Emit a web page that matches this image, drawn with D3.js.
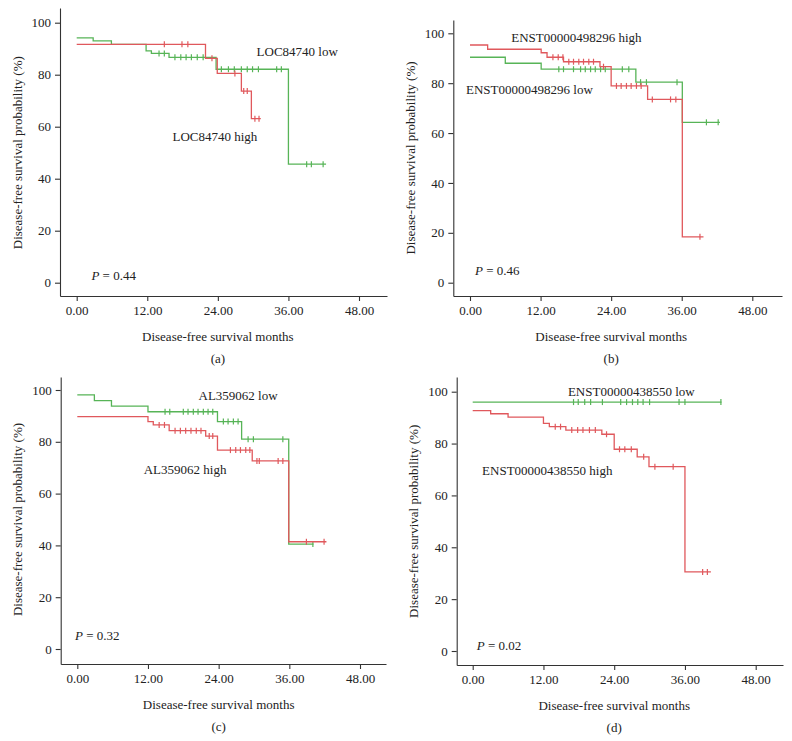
<!DOCTYPE html>
<html>
<head>
<meta charset="utf-8">
<script src="https://cdn.jsdelivr.net/npm/d3@7"></script>
<style>
  body { margin: 0; background: #fff; }
  svg { display: block; font-family: "Liberation Serif", "DejaVu Serif", serif; }
  .axis path, .axis line { stroke: #333; stroke-width: 1.1; }
  .axis text { font-family: "Liberation Serif", serif; font-size: 13px; fill: #222; }
  .lbl { font-size: 13px; fill: #222; }
</style>
</head>
<body>
<svg id="chart" width="792" height="741"></svg>
<script>
// ---- tick labels ----
const monthTicks = [0, 12, 24, 36, 48];
const survTicks = [0, 20, 40, 60, 80, 100];

// ---- (a) LOC84740 ----  steps: [month, survival %] (start + each drop)
const locLowSteps = [[0, 94.2], [2.8, 93.0], [5.9, 91.7], [11.8, 89.2], [12.7, 88.2], [15.7, 86.7], [23.7, 82.1], [36.0, 45.6]];
const locLowCensor = [14.0, 14.9, 16.7, 17.7, 18.6, 19.5, 20.5, 21.5, 24.6, 25.8, 26.8, 28.0, 29.0, 29.9, 30.9, 34.0, 34.8, 39.1, 39.9, 41.9];
const locLowEnd = 42.4;
const locHighSteps = [[0, 91.7], [21.9, 86.3], [23.9, 80.5], [28.0, 73.7], [29.7, 63.1]];
const locHighCensor = [14.9, 17.9, 18.9, 23.0, 26.9, 28.4, 29.0, 30.3, 31.0];
const locHighEnd = 31.3;

// ---- (b) ENST00000498296 ----
const e498HighSteps = [[0, 95.3], [3.0, 93.6], [12.1, 92.2], [13.1, 90.4], [15.9, 88.6], [22.1, 86.6], [24.0, 78.9], [30.2, 73.5], [36.1, 18.4]];
const e498HighCensor = [14.1, 15.0, 15.8, 16.8, 17.6, 18.5, 19.3, 20.2, 21.0, 22.7, 24.9, 25.7, 26.6, 27.4, 28.3, 29.1, 31.0, 34.1, 35.0, 39.1];
const e498HighEnd = 39.7;
const e498LowSteps = [[0, 90.4], [6.0, 88.0], [12.1, 85.6], [28.2, 80.4], [36.1, 64.3]];
const e498LowCensor = [15.1, 15.9, 17.6, 18.8, 19.6, 20.5, 21.3, 22.2, 23.0, 25.9, 27.0, 29.0, 30.0, 35.2, 40.2, 42.2];
const e498LowEnd = 42.5;

// ---- (c) AL359062 ----
const alLowSteps = [[0, 98.1], [2.9, 95.9], [5.8, 93.8], [12.0, 91.6], [23.8, 87.8], [27.9, 81.0], [35.9, 40.5]];
const alLowCensor = [14.9, 15.7, 18.0, 18.8, 19.7, 20.5, 21.4, 22.2, 23.0, 24.8, 25.6, 26.5, 27.3, 29.0, 29.9, 34.9, 40.0];
const alLowEnd = 40.1;
const alHighSteps = [[0, 89.7], [12.0, 87.8], [12.9, 86.5], [15.6, 84.3], [21.8, 82.2], [23.8, 76.8], [29.7, 72.6], [35.9, 41.4]];
const alHighCensor = [13.9, 14.8, 16.6, 17.5, 18.4, 19.3, 20.2, 21.0, 22.4, 23.0, 26.0, 26.9, 27.7, 28.6, 29.3, 30.5, 30.9, 34.1, 34.9, 38.9, 41.9];
const alHighEnd = 42.3;

// ---- (d) ENST00000438550 ----
const e438LowSteps = [[0, 96.0]];
const e438LowCensor = [17.1, 17.9, 19.0, 20.0, 22.0, 25.1, 26.1, 27.1, 28.0, 28.9, 30.0, 35.0, 36.0, 42.1];
const e438LowEnd = 42.2;
const e438HighSteps = [[0, 92.7], [3.05, 91.5], [6.0, 90.2], [12.0, 87.8], [13.0, 86.5], [15.8, 85.2], [21.9, 83.6], [24.0, 77.8], [27.9, 74.9], [29.9, 71.1], [36.0, 30.5]];
const e438HighCensor = [14.0, 14.9, 16.8, 17.8, 18.7, 19.8, 20.8, 22.7, 24.9, 25.8, 26.9, 29.0, 30.9, 34.0, 39.0, 39.8];
const e438HighEnd = 40.4;

const GREEN = '#57b457';
const RED = '#e0585c';

// Panel layout (pixel frame) + annotation anchors in data units
const panels = [
    { left: 60, right: 387, top: 8, bottom: 296, x0: 76.7, x48: 359, y0: 282.7, y100: 22.7, caption: '(a)', pValue: '0.44', pAt: [2.5, 3.0],
      series: [
        { steps: locLowSteps, censor: locLowCensor, end: locLowEnd, color: GREEN },
        { steps: locHighSteps, censor: locHighCensor, end: locHighEnd, color: RED }],
      labels: [{ text: 'LOC84740 low', at: [37.5, 89.1] }, { text: 'LOC84740 high', at: [23.5, 56.2] }] },
    { left: 453.3, right: 782, top: 20, bottom: 296, x0: 470, x48: 752.3, y0: 282.7, y100: 33.3, caption: '(b)', pValue: '0.46', pAt: [0.85, 5.1],
      series: [
        { steps: e498LowSteps, censor: e498LowCensor, end: e498LowEnd, color: GREEN },
        { steps: e498HighSteps, censor: e498HighCensor, end: e498HighEnd, color: RED }],
      labels: [{ text: 'ENST00000498296 high', at: [18.1, 98.4] }, { text: 'ENST00000498296 low', at: [10.1, 77.3] }] },
    { left: 60.7, right: 386, top: 377, bottom: 664, x0: 77.3, x48: 360, y0: 649, y100: 390, caption: '(c)', pValue: '0.32', pAt: [-0.4, 5.4],
      series: [
        { steps: alLowSteps, censor: alLowCensor, end: alLowEnd, color: GREEN },
        { steps: alHighSteps, censor: alHighCensor, end: alHighEnd, color: RED }],
      labels: [{ text: 'AL359062 low', at: [27.3, 97.7] }, { text: 'AL359062 high', at: [18.3, 69.4] }] },
    { left: 456.7, right: 783, top: 377, bottom: 665, x0: 472.7, x48: 755.7, y0: 651, y100: 391.7, caption: '(d)', pValue: '0.02', pAt: [0.68, 2.2],
      series: [
        { steps: e438LowSteps, censor: e438LowCensor, end: e438LowEnd, color: GREEN },
        { steps: e438HighSteps, censor: e438HighCensor, end: e438HighEnd, color: RED }],
      labels: [{ text: 'ENST00000438550 low', at: [26.9, 100.0] }, { text: 'ENST00000438550 high', at: [12.65, 69.8] }] }
];

const svg = d3.select('#chart');

// survival value at time t for a step series
function survAt(steps, t) {
    let s = steps[0][1];
    steps.forEach(d => { if (d[0] <= t) s = d[1]; });
    return s;
}

panels.forEach(p => {
    // Scales: ticks anchored at 0/48 and 0/100, frame extends past them
    const x = d3.scaleLinear().domain([0, 48]).range([p.x0, p.x48]);
    x.domain([x.invert(p.left), x.invert(p.right)]).range([p.left, p.right]);
    const y = d3.scaleLinear().domain([0, 100]).range([p.y0, p.y100]);
    y.domain([y.invert(p.bottom), y.invert(p.top)]).range([p.bottom, p.top]);

    const g = svg.append('g');

    // Axes
    g.append('g')
        .attr('class', 'axis')
        .attr('transform', `translate(0,${p.bottom})`)
        .call(d3.axisBottom(x).tickValues(monthTicks).tickFormat(d3.format('.2f')).tickSize(5).tickSizeOuter(0).tickPadding(5));
    g.append('g')
        .attr('class', 'axis')
        .attr('transform', `translate(${p.left},0)`)
        .call(d3.axisLeft(y).tickValues(survTicks).tickSize(5).tickSizeOuter(0).tickPadding(4));

    // Axis titles
    g.append('text')
        .attr('class', 'lbl')
        .attr('x', (x(0) + x(48)) / 2)
        .attr('y', p.bottom + 40)
        .attr('text-anchor', 'middle')
        .attr('dominant-baseline', 'central')
        .text('Disease-free survival months');
    g.append('text')
        .attr('class', 'lbl')
        .attr('x', (x(0) + x(48)) / 2)
        .attr('y', p.bottom + 62)
        .attr('text-anchor', 'middle')
        .attr('dominant-baseline', 'central')
        .text(p.caption);
    g.append('text')
        .attr('class', 'lbl')
        .attr('transform', `translate(${p.left - 43},${(y(0) + y(100)) / 2}) rotate(-90)`)
        .attr('text-anchor', 'middle')
        .attr('dominant-baseline', 'central')
        .text('Disease-free survival probability (%)');

    // Kaplan-Meier step curves
    const line = d3.line().x(d => x(d[0])).y(d => y(d[1])).curve(d3.curveStepAfter);
    p.series.forEach(s => {
        const pts = s.steps.concat([[s.end, s.steps[s.steps.length - 1][1]]]);
        g.append('path')
            .attr('d', line(pts))
            .attr('fill', 'none')
            .attr('stroke', s.color)
            .attr('stroke-width', 1.3);
        g.selectAll(null)
            .data(s.censor)
            .join('line')
            .attr('x1', d => x(d))
            .attr('x2', d => x(d))
            .attr('y1', d => y(survAt(s.steps, d)) - 3)
            .attr('y2', d => y(survAt(s.steps, d)) + 3)
            .attr('stroke', s.color)
            .attr('stroke-width', 1.2);
    });

    // Group labels
    p.labels.forEach(l => {
        g.append('text')
            .attr('class', 'lbl')
            .attr('x', x(l.at[0]))
            .attr('y', y(l.at[1]))
            .attr('text-anchor', 'middle')
            .attr('dominant-baseline', 'central')
            .text(l.text);
    });

    // P value
    const pt = g.append('text')
        .attr('class', 'lbl')
        .attr('x', x(p.pAt[0]))
        .attr('y', y(p.pAt[1]))
        .attr('dominant-baseline', 'central');
    pt.append('tspan').attr('font-style', 'italic').text('P');
    pt.append('tspan').text(' = ' + p.pValue);
});
</script>
</body>
</html>
